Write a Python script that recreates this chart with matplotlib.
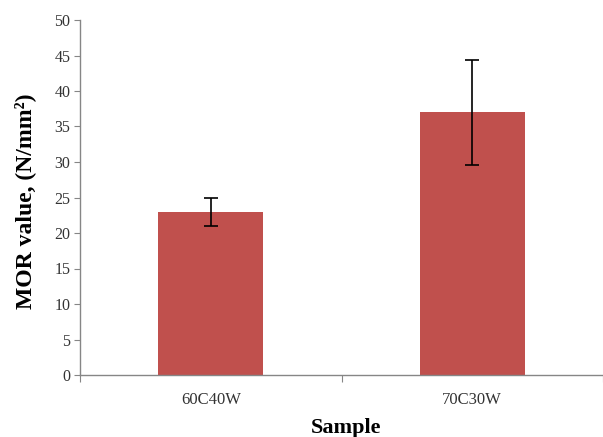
import matplotlib
matplotlib.use("Agg")
import matplotlib.pyplot as plt

categories = ["60C40W", "70C30W"]
values = [23.0, 37.0]
errors = [2.0, 7.4]
yticks = [0, 5, 10, 15, 20, 25, 30, 35, 40, 45, 50]

plt.rcParams['font.family'] = ['Liberation Serif', 'DejaVu Serif']

W, H = 603, 437
fig = plt.figure(figsize=(W / 100, H / 100), dpi=100)
left_px, right_px, top_px, bottom_px = 80, 603, 20, 375
ax = fig.add_axes([left_px / W, 1 - bottom_px / H, (right_px - left_px) / W, (bottom_px - top_px) / H])

x = list(range(len(categories)))
ax.bar(x, values, width=0.4, color="#C0504D", zorder=2)
ax.errorbar(x, values, yerr=errors, fmt="none", ecolor="black", elinewidth=1.2,
            capsize=5, capthick=1.2, zorder=3)

ax.set_ylim(0, 50)
ax.set_xlim(-0.5, -0.5 + (right_px - left_px) / 267)
ax.set_yticks(yticks)
ax.set_xticks([-0.5, 0.5, 1.5])
ax.set_xticklabels([])
ax.set_xticks(x, minor=True)
ax.set_xticklabels(categories, minor=True)
ax.tick_params(axis="x", which="minor", length=0, pad=12, labelsize=12, colors="#333333")
ax.tick_params(axis="x", which="major", length=5, color="#868686", direction="out")
ax.tick_params(axis="y", length=4, color="#868686", direction="out", labelsize=11.5, labelcolor="#333333", pad=3)

for s in ["top", "right"]:
    ax.spines[s].set_visible(False)
for s in ["left", "bottom"]:
    ax.spines[s].set_color("#868686")
    ax.spines[s].set_linewidth(1.0)

ax.set_ylabel("MOR value, (N/mm²)", fontsize=17, fontweight="bold")
ax.yaxis.set_label_coords((36 - left_px) / (right_px - left_px), (bottom_px - 201.5) / (bottom_px - top_px))
ax.set_xlabel("Sample", fontsize=16, fontweight="bold")
ax.xaxis.set_label_coords((346 - left_px) / (right_px - left_px), (bottom_px - 418) / (bottom_px - top_px))

fig.savefig("out.png", dpi=100)
